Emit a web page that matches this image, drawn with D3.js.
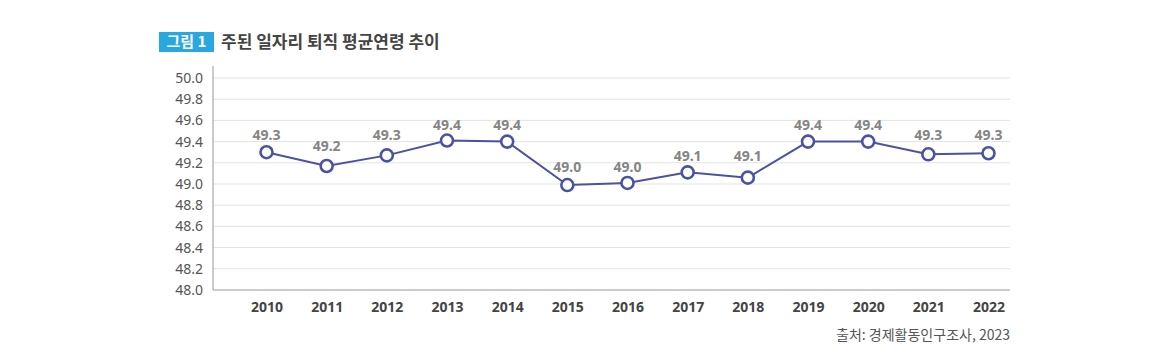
<!DOCTYPE html>
<html><head><meta charset="utf-8">
<script src="https://cdn.jsdelivr.net/npm/d3@7"></script>
<style>body{margin:0;background:#fff;}svg{display:block;font-family:"Noto Sans CJK KR","Noto Sans",sans-serif;}</style>
</head><body><svg id="c" width="1170" height="364"></svg>
<script>
const years = ["2010","2011","2012","2013","2014","2015","2016","2017","2018","2019","2020","2021","2022"];
const values = [49.30,49.17,49.27,49.41,49.40,48.99,49.01,49.11,49.06,49.40,49.40,49.28,49.29];
const labels = ["49.3","49.2","49.3","49.4","49.4","49.0","49.0","49.1","49.1","49.4","49.4","49.3","49.3"];
const yTicks = [48.0,48.2,48.4,48.6,48.8,49.0,49.2,49.4,49.6,49.8,50.0];
const titleBadge = "그림 1";
const titleText = "주된 일자리 퇴직 평균연령 추이";
const sourceText = "출처: 경제활동인구조사, 2023";

const svg = d3.select("#c");
const plotL = 213, plotR = 1010, plotT = 78, plotB = 290;
const x = d3.scalePoint().domain(years).range([266.5, 988.5]);
const y = d3.scaleLinear().domain([48, 50]).range([plotB, plotT]);
const lineColor = "#4a52a3";

// title
svg.append("rect").attr("x",159).attr("y",32).attr("width",55).attr("height",20).attr("fill","#29a8e0");
svg.append("text").attr("x",186.5).attr("y",42).attr("dy","0.36em").attr("text-anchor","middle")
  .attr("fill","#fff").attr("font-size",15).attr("font-weight","bold").text(titleBadge);
svg.append("text").attr("x",221).attr("y",42).attr("dy","0.36em")
  .attr("fill","#444").attr("font-size",17).attr("font-weight","bold").text(titleText);

// grid
svg.append("g").selectAll("line").data(yTicks.filter(d=>d>48)).join("line")
  .attr("x1",plotL).attr("x2",plotR).attr("y1",d=>y(d)).attr("y2",d=>y(d))
  .attr("stroke","#e3e3e3").attr("stroke-width",1);

// y axis
const yAxis = d3.axisLeft(y).tickValues(yTicks).tickFormat(d3.format(".1f")).tickSize(0).tickPadding(10);
const gy = svg.append("g").attr("transform",`translate(${plotL},0)`).call(yAxis);
gy.select(".domain").attr("stroke","#999").attr("d",`M0,${plotT-12}V${plotB}`);
gy.selectAll("text").attr("fill","#555").attr("font-size",14).attr("font-family","'Noto Sans',sans-serif");

// x axis
const xAxis = d3.axisBottom(x).tickSize(0).tickPadding(12);
const gx = svg.append("g").attr("transform",`translate(0,${plotB})`).call(xAxis);
gx.select(".domain").attr("stroke","#999").attr("d",`M${plotL},0H${plotR}`);
gx.selectAll("text").attr("fill","#444").attr("font-size",14).attr("font-weight","bold").attr("font-family","'Noto Sans',sans-serif");

// line
const line = d3.line().x((d,i)=>x(years[i])).y(d=>y(d));
svg.append("path").datum(values).attr("d",line).attr("fill","none").attr("stroke",lineColor).attr("stroke-width",2);

svg.append("g").selectAll("circle").data(values).join("circle")
  .attr("cx",(d,i)=>x(years[i])).attr("cy",d=>y(d)).attr("r",6)
  .attr("fill","#fff").attr("stroke",lineColor).attr("stroke-width",2.6);

svg.append("g").selectAll("text").data(labels).join("text")
  .attr("x",(d,i)=>x(years[i])).attr("y",d=>y(+d)-17).attr("dy","0.36em").attr("text-anchor","middle")
  .attr("fill","#858585").attr("font-size",14).attr("font-weight","bold").attr("font-family","'Noto Sans',sans-serif")
  .text(d=>d);

// source
svg.append("text").attr("x",plotR).attr("y",335).attr("dy","0.36em").attr("text-anchor","end")
  .attr("fill","#555").attr("font-size",14).text(sourceText);
</script></body></html>
